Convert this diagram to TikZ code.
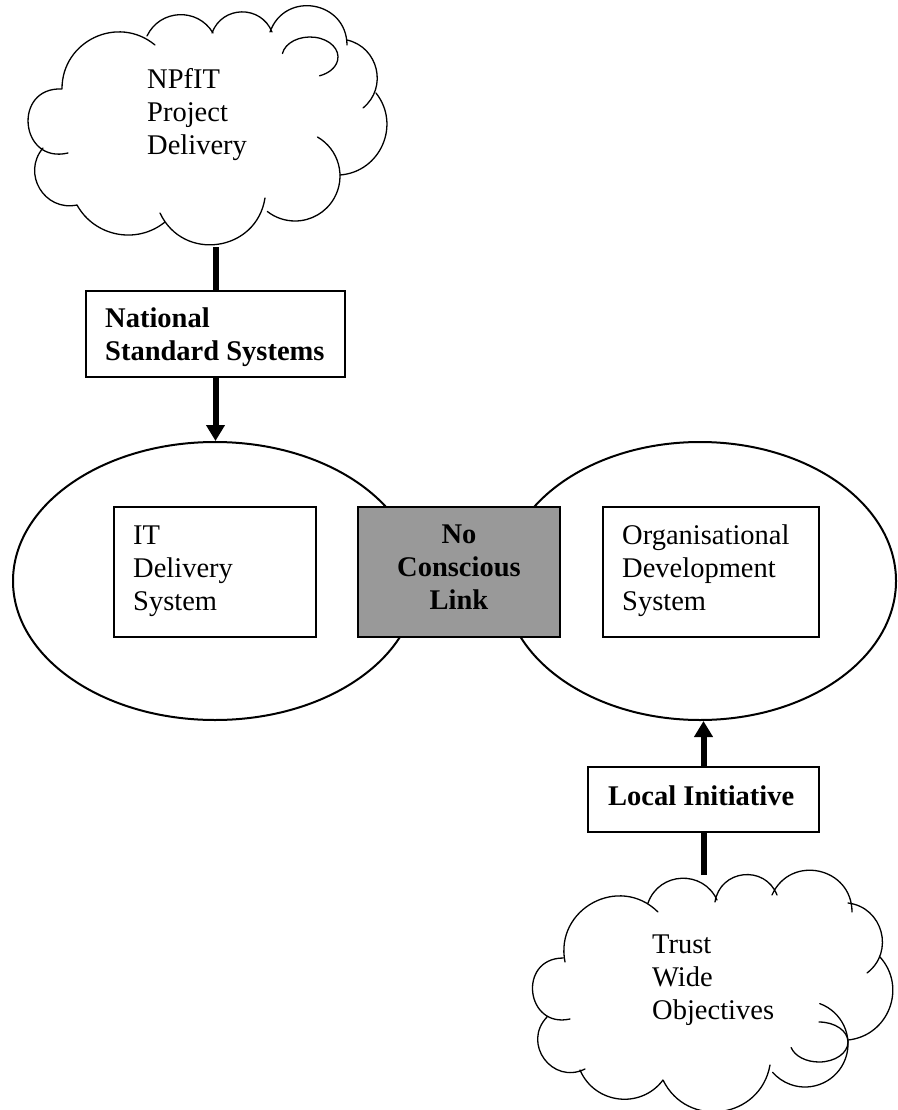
\documentclass[tikz,border=0pt]{standalone}
\usepackage{fontspec}
\setmainfont{Liberation Serif}
\usetikzlibrary{arrows.meta,shapes.geometric,calc}
\definecolor{boxgray}{RGB}{153,153,153}
\newcommand{\dfont}{\fontsize{28.5}{33}\selectfont}
\newcommand{\mystrut}{\rule{0pt}{25pt}}
\begin{document}
\begin{tikzpicture}[x=1pt,y=1pt,
  cloudline/.style={line width=1.3pt, line cap=round},
  bmp/.code={\pgfmathsetmacro\cldlo{0.8514/(cos(#1/2)^2)}\pgfkeysalso{bend left=#1,looseness=\cldlo}},
  plainbox/.style={draw, line width=1.5pt, fill=white, inner sep=0pt},
  graybox/.style={plainbox, fill=boxgray},
  sysell/.style={draw, ellipse, line width=2pt, inner sep=0pt, minimum height=278pt},
  txt/.style={inner sep=0pt, anchor=north west, align=left, font=\dfont},
  btxt/.style={txt, font=\dfont\bfseries},
  ctxt/.style={inner sep=0pt, anchor=north, align=center, font=\dfont\bfseries},
  bigline/.style={line width=6pt},
  bigarrow/.style={line width=6pt, -{Triangle[length=16pt,width=18pt]}}
]
\path[use as bounding box] (0,0) rectangle (897,-1110);

% system ellipses
\node[sysell, minimum width=404pt] (ell1) at (215,-581) {};
\node[sysell, minimum width=392pt] (ell2) at (700,-581) {};

% boxes
\node[plainbox, minimum width=202pt, minimum height=130pt] (itbox) at (215,-572) {};
\node[graybox, minimum width=202pt, minimum height=130pt] (link) at (459,-572) {};
\node[plainbox, minimum width=216pt, minimum height=130pt] (orgbox) at (711,-572) {};
\node[plainbox, minimum width=259pt, minimum height=86pt] (nat) at (215.5,-334) {};
\node[plainbox, minimum width=231pt, minimum height=65pt] (loc) at (703.5,-799.5) {};

% texts
\node[txt] (t1) at (147,-63) {\mystrut NPfIT\\Project\\Delivery};
\node[txt] (t2) at (652,-928) {\mystrut Trust\\Wide\\Objectives};
\node[btxt] (tnat) at (105,-302) {\mystrut National\\Standard Systems};
\node[txt] (tit) at (133,-519) {\mystrut IT\\Delivery\\System};
\node[ctxt] (tlink) at (459,-518) {\mystrut No\\Conscious\\Link};
\node[txt] (torg) at (622,-519) {\mystrut Organisational\\Development\\System};
\node[btxt] (tloc) at (608,-780) {\mystrut Local Initiative};

% top cloud
\draw[cloudline]
 (68,-153) to[bmp=98] (62,-89)
 (62,-89) to[bmp=65] (155,-45)
 (147,-36) to[bmp=62] (213,-33)
 (212,-33) to[bmp=69] (272,-32)
 (270,-32) to[bmp=80] (347,-45)
 (347,-40) to[bmp=64] (363,-108)
 (376,-93) to[bmp=62] (340,-175)
 (265,-198) to[bmp=73] (160,-213)
 (165,-222) to[bmp=50] (77,-205)
 (77,-205) to[bmp=71] (43,-148);
\draw[cloudline] ($(295,-176)+(60:45)$) arc[start angle=60, end angle=-128, radius=45];
\draw[cloudline] ($(310,-57)+(170:28 and 20)$) arc[start angle=170, end angle=-70, x radius=28, y radius=20];

% bottom cloud
\draw[cloudline]
 (570,-1019) to[bmp=96] (563,-958)
 (565,-962) to[bmp=73] (658,-912)
 (648,-903) to[bmp=68] (717,-900)
 (715,-902) to[bmp=75] (777,-895)
 (772,-895) to[bmp=78] (852,-912)
 (848,-903) to[bmp=68] (867,-973)
 (880,-957) to[bmp=63] (848,-1040)
 (770,-1065) to[bmp=72] (663,-1080)
 (663,-1080) to[bmp=60] (580,-1070)
 (585,-1069) to[bmp=80] (547,-1017);
\draw[cloudline] ($(805,-1044)+(70:43)$) arc[start angle=70, end angle=-139, radius=43];
\draw[cloudline] ($(819,-1042)+(90:29 and 20)$) arc[start angle=90, end angle=-164, x radius=29, y radius=20];

\coordinate (c1bot) at (215.5,-247);
\coordinate (c2top) at (703.5,-875);

% connectors
\draw[bigline] (c1bot) -- (nat.north);
\draw[bigarrow] (nat.south) -- (nat.south |- ell1.north);
\draw[bigline] (c2top) -- (loc.south);
\draw[bigarrow] (loc.north) -- (loc.north |- ell2.south);
\end{tikzpicture}
\end{document}
